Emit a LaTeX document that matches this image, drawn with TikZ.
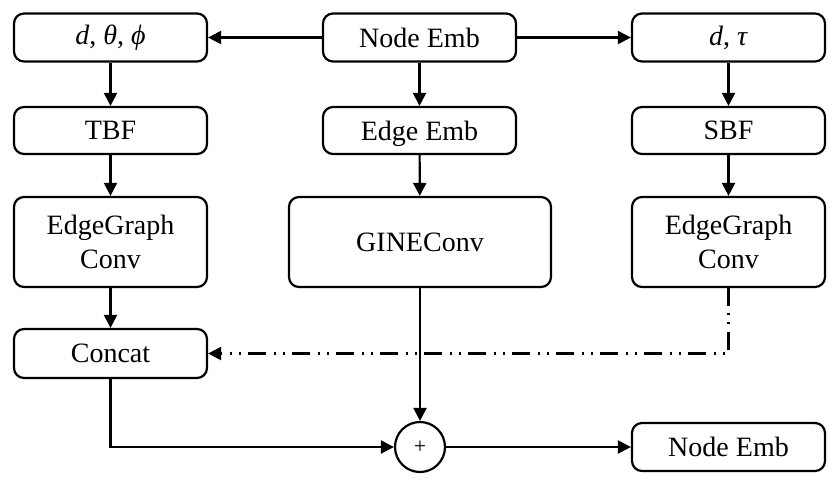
\documentclass[tikz,border=0pt]{standalone}
\usepackage{fontspec}
\setmainfont{Liberation Serif}
\usetikzlibrary{arrows.meta}
\begin{document}
\begin{tikzpicture}[x=1pt,y=-1pt,
  every node/.style={font=\fontsize{28}{34}\selectfont},
  blk/.style={draw, line width=2.2pt, rounded corners=10pt, minimum width=193pt, minimum height=48pt, inner sep=0pt, align=center},
  tall/.style={blk, minimum height=90pt},
  arr/.style={line width=2.2pt, -{Triangle[length=13pt,width=13pt]}},
  dd/.style={arr, dash pattern=on 18pt off 7pt on 2pt off 7pt on 2pt off 8pt}]
\useasboundingbox (0,0) rectangle (834,480);
\node[blk] (dtp) at (110.5,37.5) {\textit{d}, \textit{θ}, \textit{ϕ}};
\node[blk] (ne) at (419.5,37.5) {Node Emb};
\node[blk] (dt) at (728.5,37.5) {\textit{d}, \textit{τ}};
\node[blk, minimum height=47pt] (tbf) at (110.5,130.5) {TBF};
\node[blk, minimum height=47pt, text depth=0pt] (ee) at (419.5,130.5) {Edge Emb};
\node[blk, minimum height=47pt] (sbf) at (728.5,130.5) {SBF};
\node[tall] (eg1) at (110.5,242) {EdgeGraph\\Conv};
\node[tall, minimum width=262pt] (gine) at (420,242) {GINEConv};
\node[tall] (eg2) at (728.5,242) {EdgeGraph\\Conv};
\node[blk, minimum height=49pt] (cc) at (110.5,353.5) {Concat};
\node[draw, circle, line width=2.2pt, minimum size=50pt, inner sep=0pt, font=\fontsize{22}{26}\selectfont] (plus) at (420,447) {+};
\node[blk] (ne2) at (728.5,447) {Node Emb};
\coordinate (cor) at (728.5,353.5);
\draw[arr] (ne) -- (dtp);
\draw[arr] (ne) -- (dt);
\draw[arr] (dtp) -- (tbf);
\draw[arr] (ne) -- (ee);
\draw[arr] (dt) -- (sbf);
\draw[arr] (tbf) -- (eg1);
\draw[arr] (ee) -- (gine);
\draw[arr] (sbf) -- (eg2);
\draw[arr] (eg1) -- (cc);
\draw[arr] (gine) -- (plus);
\draw[arr] (cc.south) |- (plus.west);
\draw[arr] (plus) -- (ne2);
\draw[dd] (eg2.south) -- (cor) -- (cc.east);
\end{tikzpicture}
\end{document}
